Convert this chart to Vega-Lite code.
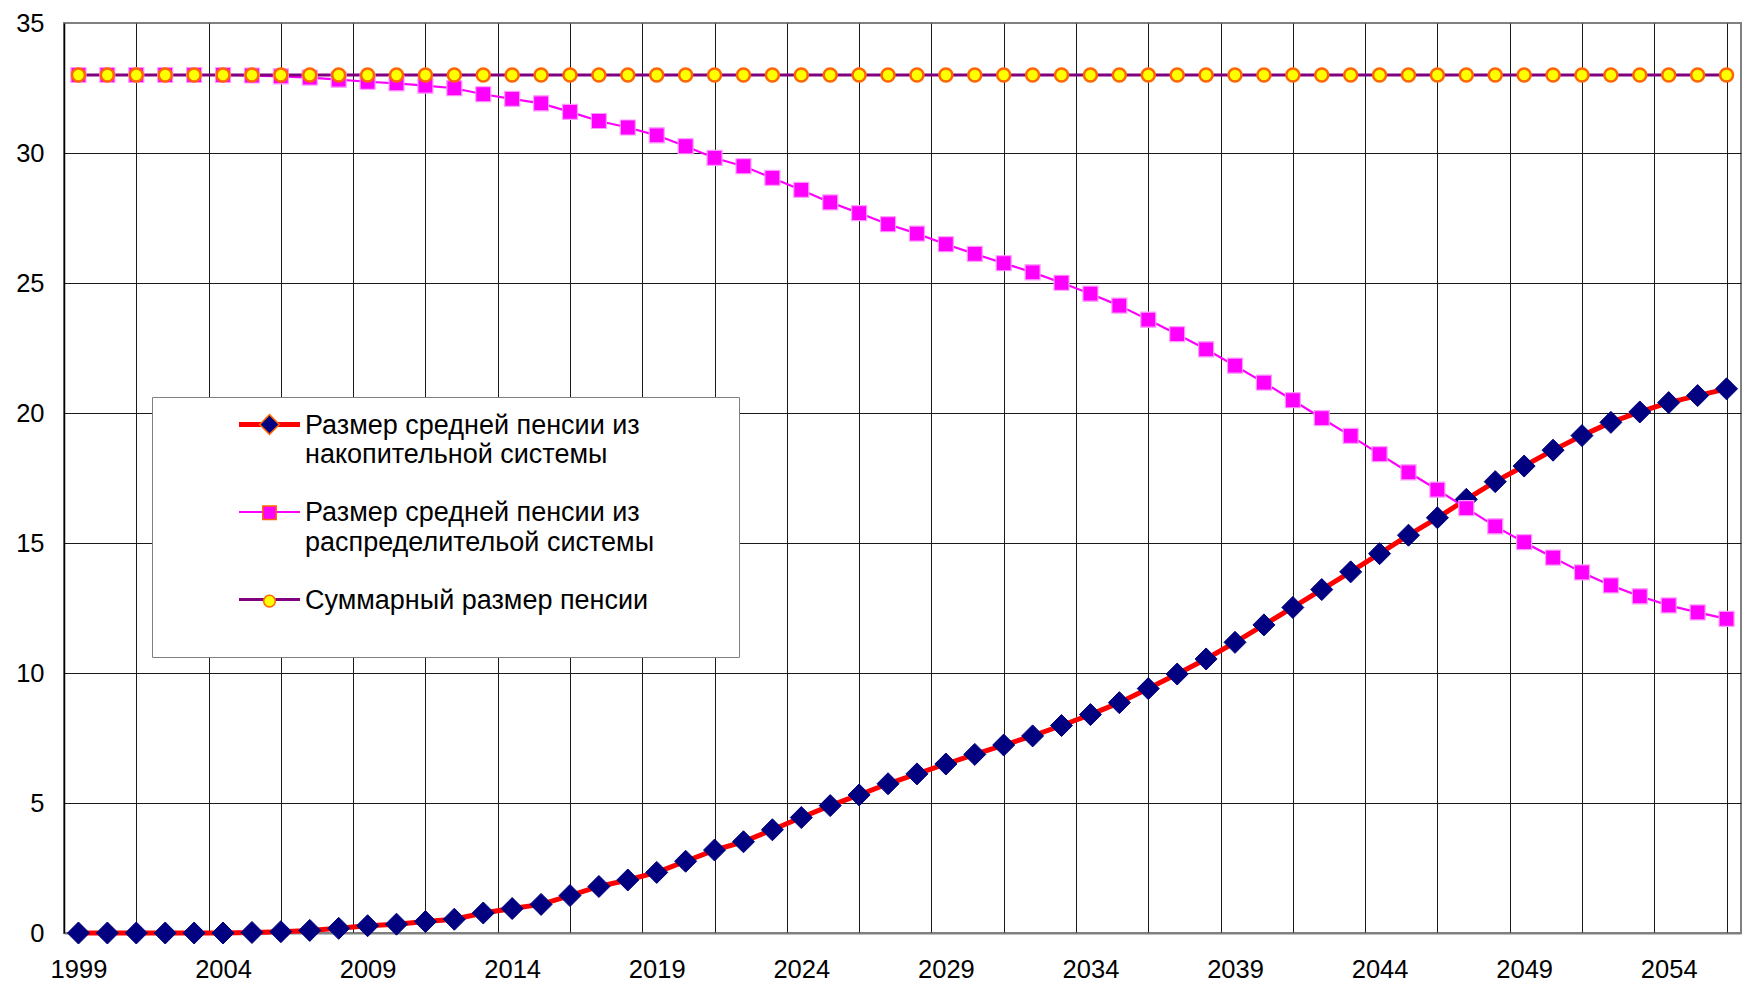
{
  "$schema": "https://vega.github.io/schema/vega-lite/v6.json",
  "width": 1677,
  "height": 910,
  "autosize": {"type": "none"},
  "padding": {"left": 64, "top": 23, "right": 1, "bottom": 49},
  "background": "#ffffff",
  "config": {
    "font": "Liberation Sans",
    "view": {"stroke": "#808080", "strokeWidth": 2}
  },
  "data": {
    "values": [
      {"year": 1999, "funded": 0, "payg": 33, "total": 33},
      {"year": 2000, "funded": 0, "payg": 33, "total": 33},
      {"year": 2001, "funded": 0, "payg": 33, "total": 33},
      {"year": 2002, "funded": 0, "payg": 33, "total": 33},
      {"year": 2003, "funded": 0, "payg": 33, "total": 33},
      {"year": 2004, "funded": 0, "payg": 33, "total": 33},
      {"year": 2005, "funded": 0.02, "payg": 32.98, "total": 33},
      {"year": 2006, "funded": 0.05, "payg": 32.95, "total": 33},
      {"year": 2007, "funded": 0.1, "payg": 32.9, "total": 33},
      {"year": 2008, "funded": 0.18, "payg": 32.82, "total": 33},
      {"year": 2009, "funded": 0.28, "payg": 32.74, "total": 33},
      {"year": 2010, "funded": 0.34, "payg": 32.68, "total": 33},
      {"year": 2011, "funded": 0.44, "payg": 32.59, "total": 33},
      {"year": 2012, "funded": 0.53, "payg": 32.49, "total": 33},
      {"year": 2013, "funded": 0.77, "payg": 32.26, "total": 33},
      {"year": 2014, "funded": 0.94, "payg": 32.08, "total": 33},
      {"year": 2015, "funded": 1.1, "payg": 31.91, "total": 33},
      {"year": 2016, "funded": 1.44, "payg": 31.58, "total": 33},
      {"year": 2017, "funded": 1.79, "payg": 31.23, "total": 33},
      {"year": 2018, "funded": 2.04, "payg": 30.98, "total": 33},
      {"year": 2019, "funded": 2.33, "payg": 30.68, "total": 33},
      {"year": 2020, "funded": 2.76, "payg": 30.26, "total": 33},
      {"year": 2021, "funded": 3.19, "payg": 29.81, "total": 33},
      {"year": 2022, "funded": 3.51, "payg": 29.49, "total": 33},
      {"year": 2023, "funded": 3.97, "payg": 29.04, "total": 33},
      {"year": 2024, "funded": 4.44, "payg": 28.58, "total": 33},
      {"year": 2025, "funded": 4.9, "payg": 28.1, "total": 33},
      {"year": 2026, "funded": 5.31, "payg": 27.69, "total": 33},
      {"year": 2027, "funded": 5.74, "payg": 27.26, "total": 33},
      {"year": 2028, "funded": 6.12, "payg": 26.9, "total": 33},
      {"year": 2029, "funded": 6.5, "payg": 26.49, "total": 33},
      {"year": 2030, "funded": 6.87, "payg": 26.12, "total": 33},
      {"year": 2031, "funded": 7.23, "payg": 25.76, "total": 33},
      {"year": 2032, "funded": 7.58, "payg": 25.41, "total": 33},
      {"year": 2033, "funded": 7.98, "payg": 25.01, "total": 33},
      {"year": 2034, "funded": 8.4, "payg": 24.59, "total": 33},
      {"year": 2035, "funded": 8.86, "payg": 24.13, "total": 33},
      {"year": 2036, "funded": 9.4, "payg": 23.59, "total": 33},
      {"year": 2037, "funded": 9.96, "payg": 23.03, "total": 33},
      {"year": 2038, "funded": 10.54, "payg": 22.45, "total": 33},
      {"year": 2039, "funded": 11.18, "payg": 21.82, "total": 33},
      {"year": 2040, "funded": 11.85, "payg": 21.17, "total": 33},
      {"year": 2041, "funded": 12.52, "payg": 20.49, "total": 33},
      {"year": 2042, "funded": 13.21, "payg": 19.8, "total": 33},
      {"year": 2043, "funded": 13.89, "payg": 19.12, "total": 33},
      {"year": 2044, "funded": 14.59, "payg": 18.42, "total": 33},
      {"year": 2045, "funded": 15.3, "payg": 17.72, "total": 33},
      {"year": 2046, "funded": 15.97, "payg": 17.05, "total": 33},
      {"year": 2047, "funded": 16.68, "payg": 16.34, "total": 33},
      {"year": 2048, "funded": 17.36, "payg": 15.64, "total": 33},
      {"year": 2049, "funded": 17.96, "payg": 15.03, "total": 33},
      {"year": 2050, "funded": 18.57, "payg": 14.44, "total": 33},
      {"year": 2051, "funded": 19.13, "payg": 13.87, "total": 33},
      {"year": 2052, "funded": 19.64, "payg": 13.37, "total": 33},
      {"year": 2053, "funded": 20.04, "payg": 12.95, "total": 33},
      {"year": 2054, "funded": 20.4, "payg": 12.6, "total": 33},
      {"year": 2055, "funded": 20.67, "payg": 12.33, "total": 33},
      {"year": 2056, "funded": 20.93, "payg": 12.08, "total": 33}
    ]
  },
  "transform": [
    {"fold": ["funded", "payg", "total"], "as": ["series", "value"]},
    {"calculate": "datum.series", "as": "marker"}
  ],
  "encoding": {
    "x": {
      "field": "year",
      "type": "quantitative",
      "scale": {"domain": [1998.5, 2056.5], "nice": false, "zero": false},
      "axis": {
        "title": null,
        "values": [1998.5, 1999, 2001, 2003.5, 2004, 2006, 2008.5, 2009, 2011, 2013.5, 2014, 2016, 2018.5, 2019, 2021, 2023.5, 2024, 2026, 2028.5, 2029, 2031, 2033.5, 2034, 2036, 2038.5, 2039, 2041, 2043.5, 2044, 2046, 2048.5, 2049, 2051, 2053.5, 2054, 2056],
        "labelExpr": "(datum.value - 1999) % 5 == 0 ? format(datum.value, 'd') : ''",
        "labelFontSize": 25.5,
        "labelColor": "#000000",
        "labelPadding": 24,
        "labelOverlap": false,
        "labelFlush": false,
        "labelBound": false,
        "ticks": false,
        "domainColor": "#808080",
        "domainWidth": 2,
        "grid": true,
        "gridColor": "#1a1a1a",
        "gridWidth": 1,
        "gridOpacity": {"condition": {"test": "(datum.value - 1998.5) % 2.5 == 0 && datum.value > 1999", "value": 1}, "value": 0}
      }
    },
    "y": {
      "field": "value",
      "type": "quantitative",
      "scale": {"domain": [0, 35], "nice": false},
      "axis": {
        "title": null,
        "values": [0, 5, 10, 15, 20, 25, 30, 35],
        "labelFontSize": 25.5,
        "labelColor": "#000000",
        "labelPadding": 20,
        "ticks": false,
        "domainColor": "#000000",
        "domainWidth": 1.5,
        "grid": true,
        "gridColor": "#1a1a1a",
        "gridWidth": 1,
        "gridOpacity": {"condition": {"test": "datum.value > 0 && datum.value < 35", "value": 1}, "value": 0}
      }
    }
  },
  "layer": [
    {
      "mark": {"type": "line", "strokeJoin": "round"},
      "encoding": {
        "stroke": {
          "field": "series",
          "type": "nominal",
          "scale": {"range": ["#ff0000", "#ff00ff", "#800080"]},
          "legend": {
            "orient": "none",
            "legendX": 88,
            "legendY": 374,
            "title": null,
            "padding": 14,
            "symbolType": "M-12.2,0H12.2",
            "symbolSize": 25,
            "symbolOffset": 90,
            "labelOffset": 22,
            "labelFontSize": 27,
            "labelColor": "#000000",
            "labelBaseline": "alphabetic",
            "labelLimit": 800,
            "rowPadding": 30.5,
            "strokeColor": "#808080",
            "fillColor": "#ffffff",
            "zindex": 1,
            "labelExpr": "datum.value == 'funded' ? ['Размер средней пенсии из', 'накопительной системы'] : datum.value == 'payg' ? ['Размер средней пенсии из', 'распределительой системы'] : ['Суммарный размер пенсии', '⠀⠀⠀⠀⠀⠀⠀⠀⠀⠀⠀⠀⠀⠀⠀⠀⠀⠀⠀⠀⠀']",
            "encode": {
              "labels": {"update": {"dy": {"value": 9}, "lineHeight": {"value": 29.5}}},
              "symbols": {"update": {"strokeWidth": {"signal": "datum.value == 'funded' ? 5 : datum.value == 'payg' ? 2 : 3"}}}
            }
          }
        },
        "strokeWidth": {
          "condition": [
            {"test": "datum.series == 'funded'", "value": 5},
            {"test": "datum.series == 'payg'", "value": 2.2}
          ],
          "value": 3
        }
      }
    },
    {
      "mark": {"type": "point", "filled": true, "opacity": 1, "size": 25},
      "encoding": {
        "fill": {
          "field": "marker",
          "type": "nominal",
          "scale": {"range": ["#000080", "#ff00ff", "#ffff00"]},
          "legend": {
            "orient": "none",
            "legendX": 88,
            "legendY": 374,
            "title": null,
            "padding": 14,
            "symbolSize": 20,
            "symbolOffset": 90,
            "labelOffset": 22,
            "labelFontSize": 27,
            "labelLimit": 800,
            "rowPadding": 60.3,
            "zindex": 2,
            "labelExpr": "''",
            "encode": {
              "symbols": {"update": {
                "stroke": {"signal": "datum.value == 'funded' ? '#000080' : datum.value == 'payg' ? '#ff99ff' : '#ff6600'"},
                "strokeWidth": {"signal": "datum.value == 'total' ? 2.5 : 1"}
              }}
            }
          }
        },
        "shape": {
          "field": "marker",
          "type": "nominal",
          "scale": {"range": [
            "M-4.4,0L0,-4.4L4.4,0L0,4.4Z",
            "M-3,-3H3V3H-3ZM0,-4.4L0,-4.4M0,4.4L0,4.4",
            "M-2.6,0A2.6,2.6,0,1,1,2.6,0A2.6,2.6,0,1,1,-2.6,0ZM0,-4.4L0,-4.4M0,4.4L0,4.4"
          ]}
        },
        "stroke": {
          "condition": [
            {"test": "datum.marker == 'funded'", "value": "#000080"},
            {"test": "datum.marker == 'payg'", "value": "#ff99ff"}
          ],
          "value": "#ff6600"
        },
        "strokeWidth": {
          "condition": [
            {"test": "datum.marker == 'funded'", "value": 1},
            {"test": "datum.marker == 'payg'", "value": 1.2}
          ],
          "value": 2.5
        }
      }
    }
  ]
}
